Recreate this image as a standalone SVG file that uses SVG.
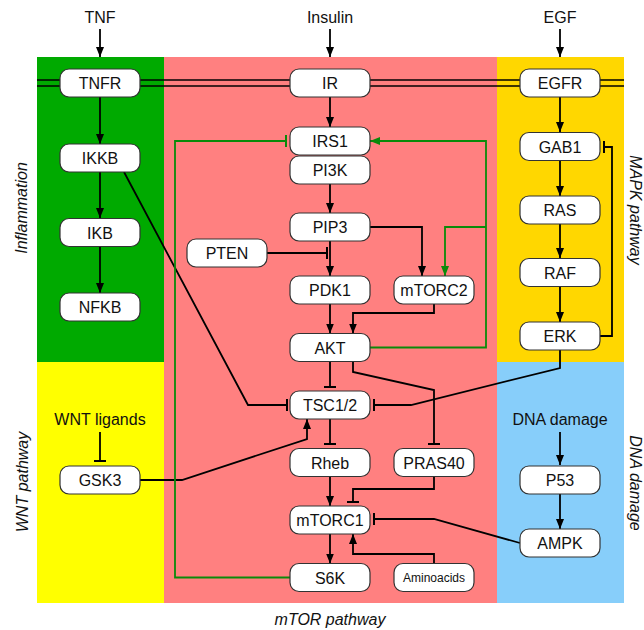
<svg xmlns="http://www.w3.org/2000/svg" width="644" height="630" viewBox="0 0 644 630">
<style>
text{font-family:"Liberation Sans",Arial,sans-serif;font-size:16px;fill:#111;}
.lbl{text-anchor:middle;}
.it{font-style:italic;text-anchor:middle;}
.small{font-size:12px;}
.node rect{fill:#fff;stroke:#333;stroke-width:1.2;}
.node text{text-anchor:middle;}
.c{fill:none;stroke:#000;stroke-width:1.8;}
.g{fill:none;stroke:#0a8a0a;stroke-width:1.8;}
.mem{stroke:#000;stroke-width:1.5;}
</style>
<defs>
<marker id="arr" markerUnits="userSpaceOnUse" markerWidth="11" markerHeight="8" refX="10" refY="4" orient="auto"><path d="M0,0 L10,4 L0,8 z" fill="#000"/></marker>
<marker id="bar" markerUnits="userSpaceOnUse" markerWidth="4" markerHeight="12" refX="2" refY="6" orient="auto"><path d="M2,0 V12" stroke="#000" stroke-width="2"/></marker>
<marker id="garr" markerUnits="userSpaceOnUse" markerWidth="11" markerHeight="8" refX="10" refY="4" orient="auto"><path d="M0,0 L10,4 L0,8 z" fill="#0a8a0a"/></marker>
<marker id="gbar" markerUnits="userSpaceOnUse" markerWidth="4" markerHeight="12" refX="2" refY="6" orient="auto"><path d="M2,0 V12" stroke="#0a8a0a" stroke-width="2"/></marker>
</defs>
<rect width="644" height="630" fill="#fff"/>
<g id="regions">
<rect x="164" y="57" width="333" height="546" fill="#ff8080"/>
<rect x="37" y="57" width="127" height="305" fill="#00aa00"/>
<rect x="37" y="362" width="127" height="241" fill="#ffff00"/>
<rect x="497" y="57" width="127" height="305" fill="#ffd700"/>
<rect x="497" y="362" width="127" height="241" fill="#87cefa"/>
</g>
<g id="membrane">
<line class="mem" x1="37" y1="80" x2="624" y2="80"/>
<line class="mem" x1="37" y1="86" x2="624" y2="86"/>
</g>
<g id="labels">
<text class="lbl" x="100" y="23">TNF</text>
<text class="lbl" x="330" y="23">Insulin</text>
<text class="lbl" x="560" y="23">EGF</text>
<text class="lbl" x="100" y="425">WNT ligands</text>
<text class="lbl" x="560" y="425">DNA damage</text>
<text class="it" transform="translate(27,208) rotate(-90)">Inflammation</text>
<text class="it" transform="translate(28,482) rotate(-90)">WNT pathway</text>
<text class="it" transform="translate(630,210) rotate(90)">MAPK pathway</text>
<text class="it" transform="translate(630,483) rotate(90)">DNA damage</text>
<text class="it" x="330" y="625">mTOR pathway</text>
</g>
<g id="connectors">
<path class="c" d="M100,29 V57" marker-end="url(#arr)"/>
<path class="c" d="M330,29 V57" marker-end="url(#arr)"/>
<path class="c" d="M560,29 V57" marker-end="url(#arr)"/>
<path class="c" d="M100,97 V144" marker-end="url(#arr)"/>
<path class="c" d="M100,172 V218" marker-end="url(#arr)"/>
<path class="c" d="M100,247 V293" marker-end="url(#arr)"/>
<path class="c" d="M124,172 L248,405 H287" marker-end="url(#bar)"/>
<path class="c" d="M330,97 V127" marker-end="url(#arr)"/>
<path class="c" d="M330,184 V213" marker-end="url(#arr)"/>
<path class="c" d="M267,253 H327" marker-end="url(#bar)"/>
<path class="c" d="M330,241 V276" marker-end="url(#arr)"/>
<path class="c" d="M370,227 H422 V276" marker-end="url(#arr)"/>
<path class="c" d="M330,304 V333.5" marker-end="url(#arr)"/>
<path class="c" d="M434,304 V313 H353 V333.5" marker-end="url(#arr)"/>
<path class="c" d="M330,361.5 V387" marker-end="url(#bar)"/>
<path class="c" d="M353,361.5 V372 L434,390 V444" marker-end="url(#bar)"/>
<path class="c" d="M560,350 V368 L411,405 H374" marker-end="url(#bar)"/>
<path class="c" d="M600,336 H612 V147 H604" marker-end="url(#bar)"/>
<path class="c" d="M560,97 V132" marker-end="url(#arr)"/>
<path class="c" d="M560,161 V196" marker-end="url(#arr)"/>
<path class="c" d="M560,224 V258" marker-end="url(#arr)"/>
<path class="c" d="M560,287 V322" marker-end="url(#arr)"/>
<path class="c" d="M100,432 V461" marker-end="url(#bar)"/>
<path class="c" d="M140,480 H182 L307,439 V419" marker-end="url(#arr)"/>
<path class="c" d="M330,419 V444" marker-end="url(#bar)"/>
<path class="c" d="M330,476.5 V506" marker-end="url(#arr)"/>
<path class="c" d="M434,476.5 V489 H353 V502" marker-end="url(#bar)"/>
<path class="c" d="M520,543 L434,519 H374" marker-end="url(#bar)"/>
<path class="c" d="M330,534 V563.5" marker-end="url(#arr)"/>
<path class="c" d="M434,563.5 V554 H353 V534" marker-end="url(#arr)"/>
<path class="c" d="M560,432 V465" marker-end="url(#arr)"/>
<path class="c" d="M560,494 V529" marker-end="url(#arr)"/>
<path class="g" d="M370,347.5 H486 V141 H370" marker-end="url(#garr)"/>
<path class="g" d="M486,227 H445 V276" marker-end="url(#garr)"/>
<path class="g" d="M290,577.5 H175 V141 H286" marker-end="url(#gbar)"/>
</g>
<g id="TNFR" class="node"><rect x="60" y="69" width="80" height="28" rx="9"/><text x="100" y="89">TNFR</text></g>
<g id="IKKB" class="node"><rect x="60" y="144" width="80" height="28" rx="9"/><text x="100" y="164">IKKB</text></g>
<g id="IKB" class="node"><rect x="60" y="218.5" width="80" height="28" rx="9"/><text x="100" y="238.5">IKB</text></g>
<g id="NFKB" class="node"><rect x="60" y="293" width="80" height="28" rx="9"/><text x="100" y="313">NFKB</text></g>
<g id="GSK3" class="node"><rect x="60" y="466" width="80" height="28" rx="9"/><text x="100" y="486">GSK3</text></g>
<g id="IR" class="node"><rect x="290" y="69" width="80" height="28" rx="9"/><text x="330" y="89">IR</text></g>
<g id="IRS1" class="node"><rect x="290" y="127" width="80" height="28" rx="9"/><text x="330" y="147">IRS1</text></g>
<g id="PI3K" class="node"><rect x="290" y="156" width="80" height="28" rx="9"/><text x="330" y="176">PI3K</text></g>
<g id="PIP3" class="node"><rect x="290" y="213" width="80" height="28" rx="9"/><text x="330" y="233">PIP3</text></g>
<g id="PTEN" class="node"><rect x="187" y="239" width="80" height="28" rx="9"/><text x="227" y="259">PTEN</text></g>
<g id="PDK1" class="node"><rect x="290" y="276" width="80" height="28" rx="9"/><text x="330" y="296">PDK1</text></g>
<g id="mTORC2" class="node"><rect x="394" y="276" width="80" height="28" rx="9"/><text x="434" y="296">mTORC2</text></g>
<g id="AKT" class="node"><rect x="290" y="333.5" width="80" height="28" rx="9"/><text x="330" y="353.5">AKT</text></g>
<g id="TSC12" class="node"><rect x="290" y="391" width="80" height="28" rx="9"/><text x="330" y="411">TSC1/2</text></g>
<g id="Rheb" class="node"><rect x="290" y="448.5" width="80" height="28" rx="9"/><text x="330" y="468.5">Rheb</text></g>
<g id="PRAS40" class="node"><rect x="394" y="448.5" width="80" height="28" rx="9"/><text x="434" y="468.5">PRAS40</text></g>
<g id="mTORC1" class="node"><rect x="290" y="506" width="80" height="28" rx="9"/><text x="330" y="526">mTORC1</text></g>
<g id="S6K" class="node"><rect x="290" y="563.5" width="80" height="28" rx="9"/><text x="330" y="583.5">S6K</text></g>
<g id="Aminoacids" class="node"><rect x="394" y="563.5" width="80" height="28" rx="9"/><text class="small" x="434" y="582">Aminoacids</text></g>
<g id="EGFR" class="node"><rect x="520" y="69" width="80" height="28" rx="9"/><text x="560" y="89">EGFR</text></g>
<g id="GAB1" class="node"><rect x="520" y="132.5" width="80" height="28" rx="9"/><text x="560" y="152.5">GAB1</text></g>
<g id="RAS" class="node"><rect x="520" y="196" width="80" height="28" rx="9"/><text x="560" y="216">RAS</text></g>
<g id="RAF" class="node"><rect x="520" y="258.5" width="80" height="28" rx="9"/><text x="560" y="278.5">RAF</text></g>
<g id="ERK" class="node"><rect x="520" y="322" width="80" height="28" rx="9"/><text x="560" y="342">ERK</text></g>
<g id="P53" class="node"><rect x="520" y="466" width="80" height="28" rx="9"/><text x="560" y="486">P53</text></g>
<g id="AMPK" class="node"><rect x="520" y="529" width="80" height="28" rx="9"/><text x="560" y="549">AMPK</text></g>
</svg>
